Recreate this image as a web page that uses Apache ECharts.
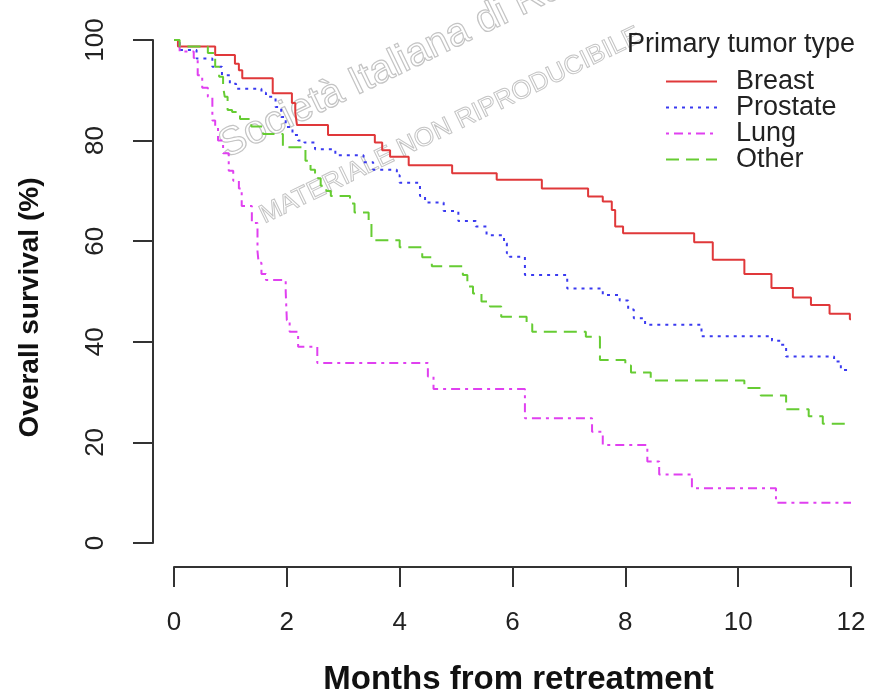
<!DOCTYPE html>
<html>
<head>
<meta charset="utf-8">
<script src="https://cdn.jsdelivr.net/npm/echarts@6/dist/echarts.min.js"></script>
<style>
  html, body { margin: 0; padding: 0; background: #fff; }
  #main { width: 869px; height: 695px; }
</style>
</head>
<body>
<div id="main"></div>
<script>
// Kaplan-Meier style curves: [month, survival %], drawn as steps
var seriesNames = ['Breast', 'Prostate', 'Lung', 'Other'];
var xTicks = [0, 2, 4, 6, 8, 10, 12];
var yTicks = [0, 20, 40, 60, 80, 100];

var breast = [
  [0, 100], [0.07, 98.7], [0.73, 97.0], [1.08, 95.3], [1.15, 94.0], [1.21, 92.4],
  [1.75, 89.4], [2.09, 87.5], [2.15, 85.5], [2.18, 83.1], [2.73, 81.1],
  [3.56, 79.6], [3.69, 78.1], [3.83, 76.8], [4.16, 75.1], [4.93, 73.5],
  [5.72, 72.2], [6.52, 70.5], [7.34, 68.9], [7.6, 67.9], [7.76, 66.2],
  [7.82, 62.9], [7.96, 61.6], [9.22, 59.8], [9.55, 56.3], [10.11, 53.5],
  [10.59, 50.7], [10.97, 48.8], [11.29, 47.3], [11.62, 45.6], [11.98, 44.5], [12, 44.5]
];
var prostate = [
  [0, 100], [0.1, 98.0], [0.4, 96.3], [0.68, 94.7], [0.85, 93.0], [0.99, 91.3],
  [1.1, 90.3], [1.55, 89.5], [1.63, 88.7], [1.8, 86.7], [1.9, 84.7], [1.98, 82.7],
  [2.1, 81.1], [2.2, 80.0], [2.31, 79.6], [2.5, 78.3], [2.86, 77.1], [3.36, 75.7],
  [3.53, 74.2], [3.95, 73.1], [4.0, 71.6], [4.36, 69.0], [4.45, 67.7], [4.78, 66.0],
  [5.04, 64.0], [5.35, 62.9], [5.54, 61.2], [5.85, 59.6], [5.9, 57.6], [5.95, 56.9],
  [6.22, 53.3], [6.97, 50.6], [7.6, 49.3], [7.9, 48.2], [8.05, 46.4], [8.15, 44.7],
  [8.35, 43.4], [9.35, 41.1], [10.6, 40.2], [10.75, 39.4], [10.85, 37.1],
  [11.7, 36.1], [11.82, 34.4], [12, 34.4]
];
var lung = [
  [0, 100], [0.1, 97.7], [0.35, 96.4], [0.42, 93.0], [0.5, 90.5], [0.6, 88.7],
  [0.68, 84.0], [0.73, 82.8], [0.78, 80.0], [0.87, 77.5], [0.97, 74.0], [1.05, 72.0],
  [1.15, 70.5], [1.2, 67.0], [1.38, 63.6], [1.48, 58.0], [1.5, 55.7], [1.55, 53.5],
  [1.63, 52.3], [1.98, 50.0], [2.0, 44.3], [2.05, 42.0], [2.2, 39.0], [2.54, 35.8],
  [4.5, 33.1], [4.6, 30.6], [6.22, 24.8], [7.41, 22.1], [7.6, 19.5], [8.39, 16.2],
  [8.6, 13.6], [9.18, 10.9], [10.67, 8.0], [12, 8.0]
];
var other = [
  [0, 100], [0.1, 98.7], [0.6, 97.4], [0.73, 94.7], [0.8, 92.7], [0.87, 90.7],
  [0.9, 88.7], [0.95, 86.1], [1.03, 85.7], [1.17, 84.3], [1.37, 82.8], [1.58, 81.3],
  [1.93, 78.7], [2.33, 76.0], [2.42, 74.2], [2.5, 72.5], [2.6, 71.0], [2.7, 70.0],
  [2.78, 69.0], [3.12, 67.5], [3.2, 65.7], [3.45, 63.5], [3.5, 60.2], [4.0, 58.8],
  [4.4, 56.8], [4.57, 55.0], [5.12, 53.3], [5.2, 51.0], [5.3, 49.6], [5.45, 48.0],
  [5.6, 47.0], [5.8, 45.0], [6.25, 43.5], [6.35, 42.0], [7.3, 41.0], [7.55, 36.4],
  [8.0, 35.3], [8.1, 33.9], [8.45, 32.3], [10.11, 30.8], [10.4, 29.3], [10.85, 26.6],
  [11.25, 25.2], [11.5, 23.7], [12, 23.7]
];

var colors = ['#e0383a', '#3a3af0', '#e040f0', '#66cc33'];
var dashes = ['solid', [3, 5], [3, 5, 9, 5], [13, 7]];
var font = '"Liberation Sans", Arial, sans-serif';
var narrow = '"Liberation Sans Narrow", "Liberation Sans", Arial, sans-serif';

var chart = echarts.init(document.getElementById('main'), null, { renderer: 'canvas' });

function mk(name, data, i) {
  return {
    name: name,
    type: 'line',
    step: 'end',
    data: data,
    showSymbol: false,
    symbol: 'none',
    color: colors[i],
    lineStyle: { color: colors[i], width: 2, type: dashes[i] }
  };
}

var option = {
  animation: false,
  backgroundColor: '#fff',
  title: {
    text: 'Primary tumor type',
    left: 622,
    top: 26,
    textStyle: { fontFamily: font, fontSize: 27, fontWeight: 'normal', color: '#222' }
  },
  legend: {
    data: seriesNames,
    orient: 'vertical',
    left: 660,
    top: 63,
    itemWidth: 51,
    itemHeight: 14,
    itemGap: -1,
    itemStyle: { opacity: 0, borderWidth: 0 },
    textStyle: { fontFamily: font, fontSize: 27, lineHeight: 24, color: '#222', padding: [0, 0, 0, 14] }
  },
  // faint watermark that sits over the plot in the source
  graphic: [
    {
      type: 'text', left: 212, top: -95, rotation: 0.45, z: -1,
      style: { text: 'Società Italiana di Radiologia', fontFamily: font, fontSize: 40, fill: 'rgba(0,0,0,0)', stroke: '#c4c4c4', lineWidth: 1.2 }
    },
    {
      type: 'text', left: 255, top: 22, rotation: 0.45, z: -1,
      style: { text: 'MATERIALE NON RIPRODUCIBILE', fontFamily: font, fontSize: 26, fill: 'rgba(0,0,0,0)', stroke: '#c4c4c4', lineWidth: 1 }
    }
  ],
  grid: { left: 174, right: 18, top: 40, bottom: 152, containLabel: false, outerBoundsMode: 'none' },
  xAxis: {
    type: 'value',
    min: 0,
    max: 12,
    interval: 2,
    offset: 24,
    name: 'Months from retreatment',
    nameLocation: 'middle',
    nameGap: 96,
    nameTextStyle: { fontFamily: font, fontSize: 33, fontWeight: 'bold', color: '#111', padding: [0, 0, 0, 12] },
    axisLine: { onZero: false, lineStyle: { color: '#333', width: 2 } },
    axisTick: { length: 20, lineStyle: { color: '#333', width: 2 } },
    axisLabel: {
      margin: 43,
      fontFamily: narrow, fontSize: 26, color: '#222',
      formatter: function (v) { return xTicks.indexOf(v) >= 0 ? String(v) : ''; }
    },
    splitLine: { show: false }
  },
  yAxis: {
    type: 'value',
    min: 0,
    max: 100,
    interval: 20,
    offset: 21,
    name: 'Overall survival (%)',
    nameLocation: 'middle',
    nameGap: 109,
    nameRotate: 90,
    nameTextStyle: { fontFamily: font, fontSize: 28, fontWeight: 'bold', color: '#111', padding: [0, 32, 0, 0] },
    axisLine: { show: true, onZero: false, lineStyle: { color: '#333', width: 2 } },
    axisTick: { show: true, length: 20, lineStyle: { color: '#333', width: 2 } },
    axisLabel: {
      rotate: 90,
      margin: 44,
      fontFamily: narrow, fontSize: 26, color: '#222',
      formatter: function (v) { return yTicks.indexOf(v) >= 0 ? String(v) : ''; }
    },
    splitLine: { show: false }
  },
  series: [
    mk('Breast', breast, 0),
    mk('Prostate', prostate, 1),
    mk('Lung', lung, 2),
    mk('Other', other, 3)
  ]
};

chart.setOption(option);
</script>
</body>
</html>
